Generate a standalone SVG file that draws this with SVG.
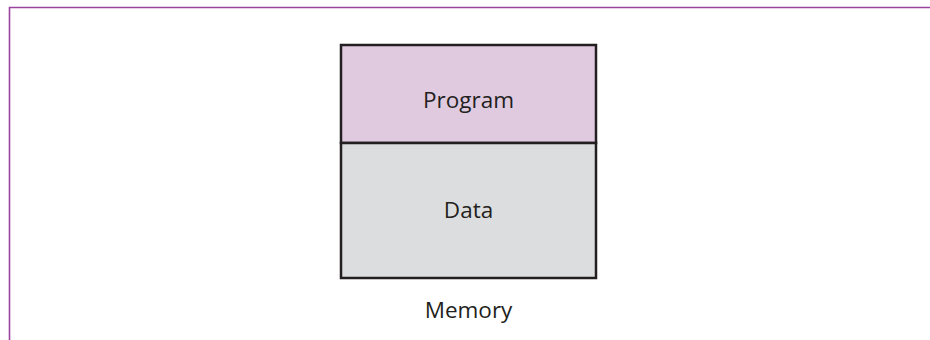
<svg xmlns="http://www.w3.org/2000/svg" width="930" height="340" viewBox="0 0 930 340">
<style>
.lbl{font-family:"Open Sans","Noto Sans",sans-serif;font-size:22.5px;fill:#231f20;text-anchor:middle}
.box{stroke:#231f20;stroke-width:2.5}
</style>
<rect width="930" height="340" fill="#ffffff"/>
<path d="M9.5 340 V7.5 H930" fill="none" stroke="#9a44a0" stroke-width="1.6"/>
<g id="program">
<rect class="box" x="341" y="45" width="255" height="98" fill="#dfcae0"/>
<text class="lbl" x="468.5" y="107.5">Program</text>
</g>
<g id="data">
<rect class="box" x="341" y="143" width="255" height="135" fill="#dcdddf"/>
<text class="lbl" x="468.5" y="217.5">Data</text>
</g>
<g id="memory">
<text class="lbl" x="468.5" y="317.5">Memory</text>
</g>
<g id="connectors"></g>
</svg>
